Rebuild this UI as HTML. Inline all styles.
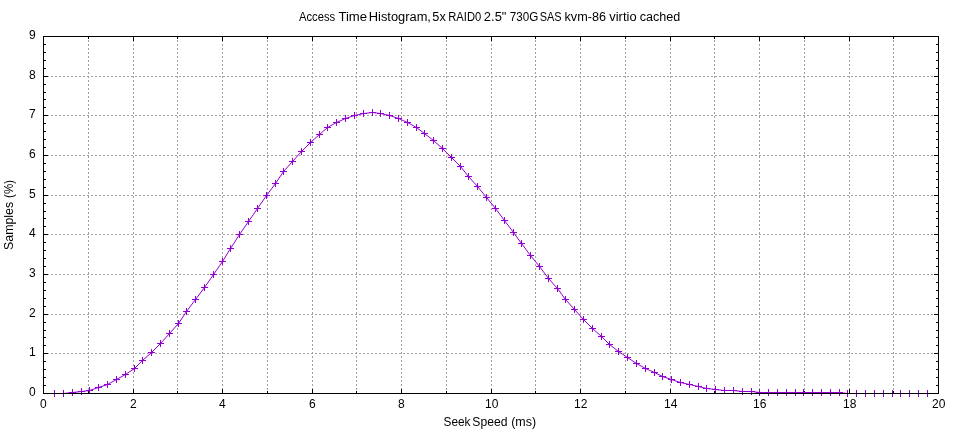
<!DOCTYPE html>
<html lang="en"><head><meta charset="utf-8"><title>Access Time Histogram</title>
<style>
html,body{margin:0;padding:0;background:#fff;overflow:hidden;}
svg{display:block;}
text{font-family:"Liberation Sans",sans-serif;fill:#000;}
</style></head><body>
<svg width="960" height="432" viewBox="0 0 960 432">
<rect width="960" height="432" fill="#fff"/>
<path d="M88.5 36.0V394.0M133.5 36.0V394.0M177.5 36.0V394.0M222.5 36.0V394.0M267.5 36.0V394.0M312.5 36.0V394.0M356.5 36.0V394.0M401.5 36.0V394.0M446.5 36.0V394.0M491.5 36.0V394.0M535.5 36.0V394.0M580.5 36.0V394.0M625.5 36.0V394.0M670.5 36.0V394.0M714.5 36.0V394.0M759.5 36.0V394.0M804.5 36.0V394.0M849.5 36.0V394.0M893.5 36.0V394.0M43.0 353.5H939.0M43.0 314.5H939.0M43.0 274.5H939.0M43.0 234.5H939.0M43.0 195.5H939.0M43.0 155.5H939.0M43.0 115.5H939.0M43.0 76.5H939.0" stroke="#a0a0a0" stroke-width="1" stroke-dasharray="2 2" fill="none" shape-rendering="crispEdges"/>
<path d="M43.5 393.5v-4.5M43.5 36.5v4.5M88.5 393.5v-2.5M88.5 36.5v2.5M133.5 393.5v-4.5M133.5 36.5v4.5M177.5 393.5v-2.5M177.5 36.5v2.5M222.5 393.5v-4.5M222.5 36.5v4.5M267.5 393.5v-2.5M267.5 36.5v2.5M312.5 393.5v-4.5M312.5 36.5v4.5M356.5 393.5v-2.5M356.5 36.5v2.5M401.5 393.5v-4.5M401.5 36.5v4.5M446.5 393.5v-2.5M446.5 36.5v2.5M491.5 393.5v-4.5M491.5 36.5v4.5M535.5 393.5v-2.5M535.5 36.5v2.5M580.5 393.5v-4.5M580.5 36.5v4.5M625.5 393.5v-2.5M625.5 36.5v2.5M670.5 393.5v-4.5M670.5 36.5v4.5M714.5 393.5v-2.5M714.5 36.5v2.5M759.5 393.5v-4.5M759.5 36.5v4.5M804.5 393.5v-2.5M804.5 36.5v2.5M849.5 393.5v-4.5M849.5 36.5v4.5M893.5 393.5v-2.5M893.5 36.5v2.5M938.5 393.5v-4.5M938.5 36.5v4.5M43.5 393.5h4.5M938.5 393.5h-4.5M43.5 385.5h2.5M938.5 385.5h-2.5M43.5 377.5h2.5M938.5 377.5h-2.5M43.5 369.5h2.5M938.5 369.5h-2.5M43.5 361.5h2.5M938.5 361.5h-2.5M43.5 353.5h4.5M938.5 353.5h-4.5M43.5 345.5h2.5M938.5 345.5h-2.5M43.5 337.5h2.5M938.5 337.5h-2.5M43.5 330.5h2.5M938.5 330.5h-2.5M43.5 322.5h2.5M938.5 322.5h-2.5M43.5 314.5h4.5M938.5 314.5h-4.5M43.5 306.5h2.5M938.5 306.5h-2.5M43.5 298.5h2.5M938.5 298.5h-2.5M43.5 290.5h2.5M938.5 290.5h-2.5M43.5 282.5h2.5M938.5 282.5h-2.5M43.5 274.5h4.5M938.5 274.5h-4.5M43.5 266.5h2.5M938.5 266.5h-2.5M43.5 258.5h2.5M938.5 258.5h-2.5M43.5 250.5h2.5M938.5 250.5h-2.5M43.5 242.5h2.5M938.5 242.5h-2.5M43.5 234.5h4.5M938.5 234.5h-4.5M43.5 226.5h2.5M938.5 226.5h-2.5M43.5 218.5h2.5M938.5 218.5h-2.5M43.5 211.5h2.5M938.5 211.5h-2.5M43.5 203.5h2.5M938.5 203.5h-2.5M43.5 195.5h4.5M938.5 195.5h-4.5M43.5 187.5h2.5M938.5 187.5h-2.5M43.5 179.5h2.5M938.5 179.5h-2.5M43.5 171.5h2.5M938.5 171.5h-2.5M43.5 163.5h2.5M938.5 163.5h-2.5M43.5 155.5h4.5M938.5 155.5h-4.5M43.5 147.5h2.5M938.5 147.5h-2.5M43.5 139.5h2.5M938.5 139.5h-2.5M43.5 131.5h2.5M938.5 131.5h-2.5M43.5 123.5h2.5M938.5 123.5h-2.5M43.5 115.5h4.5M938.5 115.5h-4.5M43.5 107.5h2.5M938.5 107.5h-2.5M43.5 99.5h2.5M938.5 99.5h-2.5M43.5 92.5h2.5M938.5 92.5h-2.5M43.5 84.5h2.5M938.5 84.5h-2.5M43.5 76.5h4.5M938.5 76.5h-4.5M43.5 68.5h2.5M938.5 68.5h-2.5M43.5 60.5h2.5M938.5 60.5h-2.5M43.5 52.5h2.5M938.5 52.5h-2.5M43.5 44.5h2.5M938.5 44.5h-2.5M43.5 36.5h4.5M938.5 36.5h-4.5" stroke="#000" stroke-width="1" fill="none"/>
<path d="M54.5 393.5 L63.5 393.5 L72.5 392.5 L81.5 391.5 L89.5 390.5 L98.5 387.5 L107.5 384.5 L116.5 379.5 L125.5 374.5 L134.5 368.5 L142.5 360.5 L151.5 352.5 L160.5 343.5 L169.5 333.5 L178.5 323.5 L186.5 311.5 L195.5 299.5 L204.5 287.5 L213.5 274.5 L222.5 261.5 L230.5 248.5 L239.5 234.5 L248.5 221.5 L257.5 208.5 L266.5 195.5 L275.5 183.5 L283.5 171.5 L292.5 161.5 L301.5 151.5 L310.5 142.5 L319.5 134.5 L327.5 127.5 L336.5 122.5 L345.5 118.5 L354.5 115.5 L363.5 113.5 L372.5 112.5 L380.5 113.5 L389.5 115.5 L398.5 118.5 L407.5 122.5 L416.5 127.5 L424.5 133.5 L433.5 140.5 L442.5 148.5 L451.5 157.5 L460.5 166.5 L468.5 176.5 L477.5 186.5 L486.5 197.5 L495.5 208.5 L504.5 220.5 L513.5 232.5 L521.5 243.5 L530.5 255.5 L539.5 266.5 L548.5 278.5 L557.5 288.5 L565.5 299.5 L574.5 309.5 L583.5 319.5 L592.5 328.5 L601.5 336.5 L609.5 344.5 L618.5 351.5 L627.5 357.5 L636.5 363.5 L645.5 368.5 L654.5 372.5 L662.5 376.5 L671.5 379.5 L680.5 382.5 L689.5 384.5 L698.5 386.5 L706.5 388.5 L715.5 389.5 L724.5 390.5 L733.5 390.5 L742.5 391.5 L751.5 391.5 L759.5 392.5 L768.5 392.5 L777.5 392.5 L786.5 392.5 L795.5 392.5 L803.5 392.5 L812.5 392.5 L821.5 392.5 L830.5 392.5 L839.5 392.5 L847.5 393.5 L856.5 393.5 L865.5 393.5 L874.5 393.5 L883.5 393.5 L892.5 393.5 L900.5 393.5 L909.5 393.5 L918.5 393.5 L927.5 393.5" stroke="#9400d3" stroke-width="1" fill="none" stroke-linejoin="round"/>
<path d="M51.0 393.5h7M54.5 390.0v7M60.0 393.5h7M63.5 390.0v7M69.0 392.5h7M72.5 389.0v7M78.0 391.5h7M81.5 388.0v7M86.0 390.5h7M89.5 387.0v7M95.0 387.5h7M98.5 384.0v7M104.0 384.5h7M107.5 381.0v7M113.0 379.5h7M116.5 376.0v7M122.0 374.5h7M125.5 371.0v7M131.0 368.5h7M134.5 365.0v7M139.0 360.5h7M142.5 357.0v7M148.0 352.5h7M151.5 349.0v7M157.0 343.5h7M160.5 340.0v7M166.0 333.5h7M169.5 330.0v7M175.0 323.5h7M178.5 320.0v7M183.0 311.5h7M186.5 308.0v7M192.0 299.5h7M195.5 296.0v7M201.0 287.5h7M204.5 284.0v7M210.0 274.5h7M213.5 271.0v7M219.0 261.5h7M222.5 258.0v7M227.0 248.5h7M230.5 245.0v7M236.0 234.5h7M239.5 231.0v7M245.0 221.5h7M248.5 218.0v7M254.0 208.5h7M257.5 205.0v7M263.0 195.5h7M266.5 192.0v7M272.0 183.5h7M275.5 180.0v7M280.0 171.5h7M283.5 168.0v7M289.0 161.5h7M292.5 158.0v7M298.0 151.5h7M301.5 148.0v7M307.0 142.5h7M310.5 139.0v7M316.0 134.5h7M319.5 131.0v7M324.0 127.5h7M327.5 124.0v7M333.0 122.5h7M336.5 119.0v7M342.0 118.5h7M345.5 115.0v7M351.0 115.5h7M354.5 112.0v7M360.0 113.5h7M363.5 110.0v7M369.0 112.5h7M372.5 109.0v7M377.0 113.5h7M380.5 110.0v7M386.0 115.5h7M389.5 112.0v7M395.0 118.5h7M398.5 115.0v7M404.0 122.5h7M407.5 119.0v7M413.0 127.5h7M416.5 124.0v7M421.0 133.5h7M424.5 130.0v7M430.0 140.5h7M433.5 137.0v7M439.0 148.5h7M442.5 145.0v7M448.0 157.5h7M451.5 154.0v7M457.0 166.5h7M460.5 163.0v7M465.0 176.5h7M468.5 173.0v7M474.0 186.5h7M477.5 183.0v7M483.0 197.5h7M486.5 194.0v7M492.0 208.5h7M495.5 205.0v7M501.0 220.5h7M504.5 217.0v7M510.0 232.5h7M513.5 229.0v7M518.0 243.5h7M521.5 240.0v7M527.0 255.5h7M530.5 252.0v7M536.0 266.5h7M539.5 263.0v7M545.0 278.5h7M548.5 275.0v7M554.0 288.5h7M557.5 285.0v7M562.0 299.5h7M565.5 296.0v7M571.0 309.5h7M574.5 306.0v7M580.0 319.5h7M583.5 316.0v7M589.0 328.5h7M592.5 325.0v7M598.0 336.5h7M601.5 333.0v7M606.0 344.5h7M609.5 341.0v7M615.0 351.5h7M618.5 348.0v7M624.0 357.5h7M627.5 354.0v7M633.0 363.5h7M636.5 360.0v7M642.0 368.5h7M645.5 365.0v7M651.0 372.5h7M654.5 369.0v7M659.0 376.5h7M662.5 373.0v7M668.0 379.5h7M671.5 376.0v7M677.0 382.5h7M680.5 379.0v7M686.0 384.5h7M689.5 381.0v7M695.0 386.5h7M698.5 383.0v7M703.0 388.5h7M706.5 385.0v7M712.0 389.5h7M715.5 386.0v7M721.0 390.5h7M724.5 387.0v7M730.0 390.5h7M733.5 387.0v7M739.0 391.5h7M742.5 388.0v7M748.0 391.5h7M751.5 388.0v7M756.0 392.5h7M759.5 389.0v7M765.0 392.5h7M768.5 389.0v7M774.0 392.5h7M777.5 389.0v7M783.0 392.5h7M786.5 389.0v7M792.0 392.5h7M795.5 389.0v7M800.0 392.5h7M803.5 389.0v7M809.0 392.5h7M812.5 389.0v7M818.0 392.5h7M821.5 389.0v7M827.0 392.5h7M830.5 389.0v7M836.0 392.5h7M839.5 389.0v7M844.0 393.5h7M847.5 390.0v7M853.0 393.5h7M856.5 390.0v7M862.0 393.5h7M865.5 390.0v7M871.0 393.5h7M874.5 390.0v7M880.0 393.5h7M883.5 390.0v7M889.0 393.5h7M892.5 390.0v7M897.0 393.5h7M900.5 390.0v7M906.0 393.5h7M909.5 390.0v7M915.0 393.5h7M918.5 390.0v7M924.0 393.5h7M927.5 390.0v7" stroke="#9400d3" stroke-width="1" fill="none"/>
<rect x="43.5" y="36.5" width="895.0" height="357.0" fill="none" stroke="#000" stroke-width="1"/>
<g font-size="12" text-anchor="end">
<text x="35.6" y="396.0">0</text>
<text x="35.6" y="356.0">1</text>
<text x="35.6" y="317.0">2</text>
<text x="35.6" y="277.0">3</text>
<text x="35.6" y="237.0">4</text>
<text x="35.6" y="198.0">5</text>
<text x="35.6" y="158.0">6</text>
<text x="35.6" y="118.0">7</text>
<text x="35.6" y="79.0">8</text>
<text x="35.6" y="39.0">9</text>
</g>
<g font-size="12" text-anchor="middle">
<text x="43.3" y="408">0</text>
<text x="133.3" y="408">2</text>
<text x="222.3" y="408">4</text>
<text x="312.3" y="408">6</text>
<text x="401.3" y="408">8</text>
<text x="491.8" y="408">10</text>
<text x="580.8" y="408">12</text>
<text x="670.8" y="408">14</text>
<text x="759.8" y="408">16</text>
<text x="849.8" y="408">18</text>
<text x="938.8" y="408">20</text>
</g>
<text y="21" font-size="12"><tspan x="299.04" textLength="36.16" lengthAdjust="spacingAndGlyphs">Access</tspan> <tspan x="338.40" textLength="28.75" lengthAdjust="spacingAndGlyphs">Time</tspan> <tspan x="368.81" textLength="62.13" lengthAdjust="spacingAndGlyphs">Histogram,</tspan> <tspan x="432.35" textLength="13.39" lengthAdjust="spacingAndGlyphs">5x</tspan> <tspan x="448.25" textLength="32.92" lengthAdjust="spacingAndGlyphs">RAID0</tspan> <tspan x="483.84" textLength="22.66" lengthAdjust="spacingAndGlyphs">2.5&quot;</tspan> <tspan x="509.72" textLength="28.46" lengthAdjust="spacingAndGlyphs">730G</tspan> <tspan x="539.63" textLength="21.84" lengthAdjust="spacingAndGlyphs">SAS</tspan> <tspan x="564.56" textLength="41.45" lengthAdjust="spacingAndGlyphs">kvm-86</tspan> <tspan x="609.31" textLength="27.28" lengthAdjust="spacingAndGlyphs">virtio</tspan> <tspan x="639.69" textLength="40.57" lengthAdjust="spacingAndGlyphs">cached</tspan></text>
<text y="426" font-size="12"><tspan x="443.51" textLength="27.02" lengthAdjust="spacingAndGlyphs">Seek</tspan> <tspan x="472.34" textLength="35.10" lengthAdjust="spacingAndGlyphs">Speed</tspan> <tspan x="511.16" textLength="24.94" lengthAdjust="spacingAndGlyphs">(ms)</tspan></text>
<text transform="rotate(-90)" y="13" font-size="12"><tspan x="-249.98" textLength="48.16" lengthAdjust="spacingAndGlyphs">Samples</tspan> <tspan x="-197.91" textLength="17.90" lengthAdjust="spacingAndGlyphs">(%)</tspan></text>
</svg>
</body></html>
